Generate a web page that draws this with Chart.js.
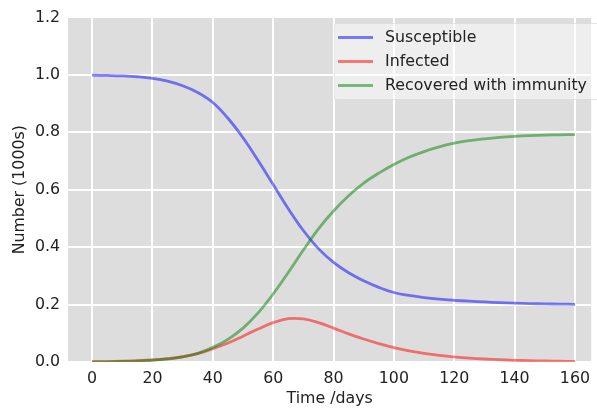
<!DOCTYPE html>
<html>
<head>
<meta charset="utf-8">
<script src="https://cdn.jsdelivr.net/npm/chart.js@4.4.1/dist/chart.umd.min.js"></script>
<style>
  html, body { margin: 0; padding: 0; background: #fff; }
  #wrap { position: relative; width: 597px; height: 412px; overflow: hidden; }
  #legend {
    position: absolute; left: 334px; top: 23px; width: 266px; height: 75px;
    background: rgba(255,255,255,0.5); border: 1px solid rgba(204,204,204,0.5);
    border-radius: 3px; font: 15.8px "DejaVu Sans", sans-serif; color: #222;
  }
  .lg-row { position: absolute; left: 0; height: 20px; line-height: 20px; white-space: nowrap; }
  .lg-line { position: absolute; left: 3px; top: 9px; width: 35px; height: 3px; }
  .lg-text { position: absolute; left: 50px; top: 0; }
</style>
</head>
<body>
<div id="wrap">
  <canvas id="sirChart" width="597" height="412"></canvas>
  <div id="legend"></div>
</div>
<script>
// values (fraction of 1000 people)
const days = [0, 5, 10, 15, 20, 25, 30, 35, 40, 45, 50, 55, 60, 65, 70, 75, 80,
  85, 90, 95, 100, 105, 110, 115, 120, 125, 130, 135, 140, 145, 150, 155, 160];
const susceptible = [0.999, 0.998, 0.9965, 0.9935, 0.988, 0.978, 0.962, 0.939, 0.904, 0.849, 0.781, 0.702, 0.618,
  0.534, 0.458, 0.395, 0.347, 0.311, 0.283, 0.260, 0.242, 0.232, 0.2245, 0.219, 0.215,
  0.2118, 0.2091, 0.2069, 0.205, 0.2035, 0.2024, 0.2016, 0.201];
const infected = [0.001, 0.0016, 0.0027, 0.0044, 0.0071, 0.0115, 0.0183, 0.029, 0.046, 0.066, 0.090, 0.115, 0.137,
  0.151, 0.150, 0.137, 0.118, 0.098, 0.080, 0.064, 0.050, 0.039, 0.030, 0.023, 0.018,
  0.0138, 0.0105, 0.008, 0.006, 0.0045, 0.0034, 0.0026, 0.002];
const recovered = [0.000, 0.0006, 0.0017, 0.0034, 0.0061, 0.0104, 0.0175, 0.030, 0.051, 0.079, 0.118, 0.171, 0.237,
  0.312, 0.390, 0.464, 0.526, 0.579, 0.623, 0.658, 0.688, 0.713, 0.733, 0.749, 0.762,
  0.771, 0.7775, 0.7825, 0.786, 0.7885, 0.7902, 0.7913, 0.792];
const seriesLabels = ['Susceptible', 'Infected', 'Recovered with immunity'];
const seriesColors = ['rgba(0,0,255,0.5)', 'rgba(255,0,0,0.5)', 'rgba(0,128,0,0.5)'];
const xTicks = [0, 20, 40, 60, 80, 100, 120, 140, 160];
const yTicks = [0, 0.2, 0.4, 0.6, 0.8, 1.0, 1.2];

const FONT = { family: '"DejaVu Sans", sans-serif', size: 15.8 };
const TXT = '#222';

const pts = arr => days.map((t, i) => ({ x: t, y: arr[i] }));

const plotBg = {
  id: 'plotBg',
  beforeDraw(chart) {
    const { ctx, chartArea: a } = chart;
    ctx.save();
    ctx.fillStyle = '#dddddd';
    ctx.fillRect(a.left, a.top, a.right - a.left, a.bottom - a.top);
    ctx.restore();
  }
};

const series = [susceptible, infected, recovered];
const chart = new Chart(document.getElementById('sirChart'), {
  type: 'line',
  data: {
    datasets: series.map((s, i) => ({
      label: seriesLabels[i], data: pts(s), borderColor: seriesColors[i], borderWidth: 2.8,
      pointRadius: 0, fill: false, tension: 0.4, order: 2 - i
    }))
  },
  options: {
    responsive: false, animation: false, devicePixelRatio: 1,
    layout: { padding: { top: 16, right: 0, bottom: 0, left: 0 }, autoPadding: false },
    plugins: { legend: { display: false }, tooltip: { enabled: false } },
    scales: {
      x: {
        type: 'linear', min: -8, max: 165.4,
        border: { display: false },
        grid: { color: '#ffffff', lineWidth: 2, drawTicks: false },
        ticks: { font: FONT, color: TXT, padding: 7, maxRotation: 0 },
        title: { display: true, text: 'Time /days', font: FONT, color: TXT, padding: { top: 2, bottom: 4 } },
        afterBuildTicks: s => { s.ticks = xTicks.map(v => ({ value: v })); },
        afterFit: s => { s.height = 50; }
      },
      y: {
        min: 0, max: 1.2,
        border: { display: false },
        grid: { color: '#ffffff', lineWidth: 2, drawTicks: false },
        ticks: { font: FONT, color: TXT, padding: 8, callback: v => Number(v).toFixed(1) },
        title: { display: true, text: 'Number (1000s)', font: FONT, color: TXT, padding: { top: 10, bottom: 4 } },
        afterBuildTicks: s => { s.ticks = yTicks.map(v => ({ value: v })); },
        afterFit: s => { s.width = 68; }
      }
    }
  },
  plugins: [plotBg]
});

// legend built from the chart's datasets
document.getElementById('legend').innerHTML = chart.data.datasets.map((d, i) => `
  <div class="lg-row" style="top:${3 + i * 24}px">
    <div class="lg-line" style="background:${d.borderColor}"></div>
    <div class="lg-text">${d.label}</div>
  </div>`).join('');
</script>
</body>
</html>
